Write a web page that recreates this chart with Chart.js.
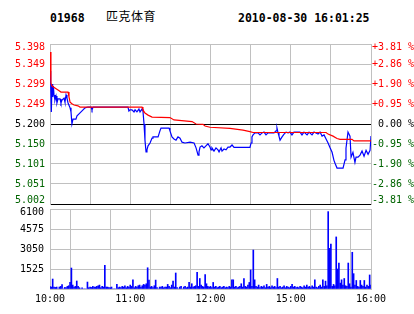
<!DOCTYPE html>
<html>
<head>
<meta charset="utf-8">
<title>01968 匹克体育</title>
<script src="https://cdn.jsdelivr.net/npm/chart.js@4.4.0/dist/chart.umd.min.js"></script>
<style>
    body { margin: 0; background: #fff; }
    #wrap { position: relative; width: 414px; height: 314px; overflow: hidden; }
    .hd { position: absolute; top: 11px; line-height: 12px; font: bold 11.5px "DejaVu Sans Mono", monospace; color: #000; white-space: pre; }
    #name { font: 12px "Noto Sans CJK SC", sans-serif; letter-spacing: 0.5px; top: 9px; line-height: 13px; }
    canvas { position: absolute; left: 0; }
</style>
</head>
<body>
<div id="wrap">
    <div class="hd" style="left:50px">01968</div>
    <div class="hd" id="name" style="left:106px">匹克体育</div>
    <div class="hd" style="left:238px">2010-08-30 16:01:25</div>
    <canvas id="priceChart" width="414" height="206" style="top:0"></canvas>
    <canvas id="volChart" width="414" height="108" style="top:206px"></canvas>
</div>
<script>
"use strict";

const priceMin = 5.002;
const priceMax = 5.398;
const priceLabels = ['5.002', '5.051', '5.101', '5.150', '5.200', '5.249', '5.299', '5.349', '5.398'];
const pctLabels = ['-3.81 %', '-2.86 %', '-1.90 %', '-0.95 %', ' 0.00 %', '+0.95 %', '+1.90 %', '+2.86 %', '+3.81 %'];
const volMax = 6100;
const volTicks = [0, 1525, 3050, 4575, 6100];
const volLabels = ['', '1525', '3050', '4575', '6100'];
const timeLabels = { 0: '10:00', 60: '11:00', 120: '12:00', 180: '15:00', 240: '16:00' };

/* last price, minutes since 10:00 (trading minutes, lunch removed). */
const lastMinutes = [
    0, 0.5, 1, 1.5, 2, 2.5, 3, 3.7, 4.5, 5.2,
    6, 7.5, 8.2, 9, 9.7, 10.5, 11.2, 12, 12.7, 13.5,
    14.2, 15, 15.7, 16.4, 17.2, 19.4, 20.2, 21.7, 23.2, 24.7,
    26.2, 28.4, 30.7, 31.4, 32.2, 58.3, 59, 59.8, 61.3, 62.8,
    63.6, 65, 66.5, 67.3, 68.8, 69.5, 70.3, 71, 71.8, 72.5,
    73.3, 74.8, 76.3, 77, 80.8, 82.2, 83, 89, 89.7, 91.2,
    92.7, 94.2, 95.7, 97.2, 98.7, 100.9, 104.7, 107.7, 109.2, 110.7,
    111.4, 112.2, 113.6, 115.1, 116.6, 118.1, 119.6, 120.4, 121.1, 122.6,
    124.1, 125.6, 126.4, 127.9, 128.6, 130.1, 131.6, 133.1, 134.6, 136.1,
    137.6, 149.5, 150.3, 151, 151.8, 153.3, 155.5, 157, 158.5, 160,
    161.5, 163, 167.5, 169, 169.7, 170.5, 171.2, 172, 173.5, 175,
    176.5, 178, 179.4, 180.9, 182.4, 186.9, 188.4, 189.9, 192.2, 193.7,
    195.9, 197.4, 200.4, 201.9, 203.4, 204.9, 206.4, 207.9, 209.4, 210.9,
    212.3, 213.1, 214.6, 219.1, 220.6, 221.3, 222.8, 224.3, 225.1, 226.5,
    228, 228.8, 230.3, 231.8, 233.3, 234.8, 236.3, 237.8, 239.3, 240
];
const lastPrices = [
    5.331, 5.299, 5.230, 5.299, 5.267, 5.294, 5.272, 5.259, 5.269, 5.252,
    5.262, 5.262, 5.252, 5.259, 5.259, 5.264, 5.254, 5.272, 5.264, 5.252,
    5.252, 5.240, 5.230, 5.200, 5.212, 5.212, 5.220, 5.225, 5.230, 5.235,
    5.240, 5.242, 5.242, 5.235, 5.242, 5.242, 5.232, 5.235, 5.235, 5.230,
    5.235, 5.230, 5.237, 5.230, 5.237, 5.232, 5.200, 5.160, 5.131, 5.136,
    5.146, 5.153, 5.165, 5.168, 5.168, 5.183, 5.190, 5.190, 5.183, 5.168,
    5.163, 5.160, 5.168, 5.165, 5.155, 5.153, 5.155, 5.153, 5.141, 5.123,
    5.131, 5.143, 5.146, 5.141, 5.146, 5.151, 5.143, 5.136, 5.141, 5.133,
    5.141, 5.136, 5.131, 5.141, 5.133, 5.138, 5.136, 5.143, 5.143, 5.148,
    5.142, 5.142, 5.153, 5.168, 5.173, 5.178, 5.178, 5.173, 5.178, 5.180,
    5.173, 5.178, 5.178, 5.183, 5.190, 5.178, 5.170, 5.160, 5.168, 5.175,
    5.180, 5.178, 5.180, 5.173, 5.180, 5.180, 5.173, 5.180, 5.173, 5.180,
    5.173, 5.180, 5.175, 5.180, 5.170, 5.173, 5.163, 5.153, 5.141, 5.130,
    5.110, 5.103, 5.091, 5.091, 5.111, 5.140, 5.180, 5.170, 5.118, 5.130,
    5.105, 5.118, 5.118, 5.123, 5.133, 5.120, 5.135, 5.125, 5.135, 5.170
];

/* average price line. */
const avgMinutes = [
    0, 0.7, 1.5, 3.7, 6, 8.2, 13.5, 14.2, 15, 16.4,
    18, 20.9, 22.4, 68.8, 69.5, 71, 73.3, 76.3, 89.7, 92.7,
    106.2, 109.2, 114.4, 115.9, 119.6, 134.6, 144.3, 149.5, 151.8, 206.4,
    207.9, 211.6, 214.6, 216.8, 225.8, 227.3, 240
];
const avgPrices = [
    5.378, 5.301, 5.294, 5.289, 5.284, 5.279, 5.279, 5.267, 5.254, 5.250,
    5.247, 5.245, 5.242, 5.242, 5.235, 5.227, 5.222, 5.217, 5.216, 5.210,
    5.206, 5.200, 5.199, 5.195, 5.192, 5.189, 5.185, 5.181, 5.179, 5.179,
    5.175, 5.170, 5.164, 5.162, 5.162, 5.158, 5.158
];

/* volume per minute, index = minute. */
const volumes = [
    180, 150, 760, 150, 120, 150, 0, 150, 200, 330,
    0, 120, 100, 200, 250, 500, 1600, 300, 150, 200,
    610, 200, 100, 0, 80, 0, 0, 0, 530, 100,
    150, 120, 200, 150, 150, 200, 250, 300, 100, 200,
    150, 1800, 150, 150, 100, 100, 150, 0, 0, 0,
    350, 100, 150, 100, 200, 150, 250, 100, 200, 150,
    300, 200, 700, 100, 200, 150, 250, 300, 150, 250,
    350, 300, 400, 1620, 680, 150, 200, 100, 250, 680,
    100, 0, 150, 150, 200, 100, 150, 150, 350, 200,
    100, 300, 600, 150, 1220, 100, 0, 150, 200, 0,
    150, 200, 100, 150, 500, 150, 400, 150, 200, 250,
    1270, 200, 800, 300, 200, 150, 1100, 400, 200, 150,
    200, 100, 500, 150, 200, 100, 150, 200, 100, 150,
    200, 100, 150, 100, 200, 150, 700, 700, 150, 200,
    100, 150, 200, 400, 150, 800, 200, 150, 300, 500,
    1450, 200, 2970, 700, 200, 150, 300, 100, 200, 150,
    250, 100, 350, 150, 200, 100, 250, 150, 200, 100,
    800, 150, 200, 100, 150, 250, 100, 200, 150, 100,
    200, 350, 150, 200, 100, 150, 100, 200, 150, 100,
    250, 150, 300, 150, 200, 100, 250, 150, 700, 150,
    100, 200, 300, 150, 700, 200, 600, 250, 5900, 3100,
    3430, 200, 350, 250, 3970, 1525, 1980, 450, 700, 300,
    800, 250, 200, 1980, 400, 150, 2800, 1170, 300, 650,
    200, 150, 650, 300, 200, 650, 150, 300, 200, 1070,
    300
];

const RED = '#ff0000';
const BLUE = '#0000ff';
const GREEN = '#006400';
const GRID = '#c0c0c0';

Chart.defaults.font.family = '"DejaVu Sans Mono", monospace';
Chart.defaults.font.size = 10;
Chart.defaults.color = '#000';

/* colour of a price/percent label: red above the close, green below. */
const sideColor = (i) => i > 4 ? RED : (i < 4 ? GREEN : '#000');

/* 9 even ticks from min to max. */
const priceTickValues = priceLabels.map((_, i) => priceMin + i * (priceMax - priceMin) / 8);
const timeTickValues = [0, 30, 60, 90, 120, 150, 180, 210, 240];

/* fixed axis width, and no extra room for the edge labels. */
const fixWidth = (w) => (s) => {
    s.width = w;
    s.paddingTop = 0;
    s.paddingBottom = 0;
};

/* keeps the top and bottom axis labels inside the panel. */
const edgeLabels = {
    id: 'edgeLabels',
    beforeDraw: (chart, args, opts) => {
        Object.values(chart.scales).forEach(s => {
            if (s.axis !== 'y' || !s.options.ticks.display) return;
            const items = s.getLabelItems();
            if (!items.length || items._nudged) return;
            items._nudged = true;
            items[0].options.translation[1] -= opts.bottom;
            items[items.length - 1].options.translation[1] += opts.top;
        });
    }
};

const timeAxis = (showLabels) => ({
    type: 'linear',
    min: 0,
    max: 240,
    offset: false,
    afterBuildTicks: s => { s.ticks = timeTickValues.map(v => ({ value: v })); },
    afterFit: s => { s.height = showLabels ? 25 : 0; },
    grid: { color: GRID, drawTicks: false },
    border: { color: showLabels ? GRID : '#000' },
    ticks: {
        display: showLabels,
        autoSkip: false,
        maxRotation: 0,
        padding: 4,
        callback: v => timeLabels[v] || ''
    }
});

const priceChart = new Chart(document.getElementById('priceChart'), {
    type: 'line',
    data: {
        datasets: [
            {
                data: avgMinutes.map((m, i) => ({ x: m, y: avgPrices[i] })),
                borderColor: RED,
                borderWidth: 1.2,
                pointRadius: 0,
                yAxisID: 'y'
            },
            {
                data: lastMinutes.map((m, i) => ({ x: m, y: lastPrices[i] })),
                borderColor: BLUE,
                borderWidth: 1.2,
                pointRadius: 0,
                yAxisID: 'y'
            }
        ]
    },
    options: {
        responsive: false,
        animation: false,
        layout: { padding: { top: 44, bottom: 2, left: 0, right: 0 } },
        plugins: {
            legend: { display: false },
            tooltip: { enabled: false },
            edgeLabels: { top: 3, bottom: 4 }
        },
        scales: {
            x: timeAxis(false),
            y: {
                min: priceMin,
                max: priceMax,
                afterBuildTicks: s => { s.ticks = priceTickValues.map(v => ({ value: v })); },
                afterFit: fixWidth(50),
                grid: {
                    drawTicks: false,
                    color: ctx => (ctx.index === 0 || ctx.index === 4) ? '#000' : GRID
                },
                border: { color: GRID },
                ticks: {
                    padding: 5,
                    callback: (v, i) => priceLabels[i],
                    color: ctx => sideColor(ctx.index)
                }
            },
            y2: {
                position: 'right',
                min: priceMin,
                max: priceMax,
                afterBuildTicks: s => { s.ticks = priceTickValues.map(v => ({ value: v })); },
                afterFit: fixWidth(43),
                grid: { display: false, drawTicks: false },
                border: { color: GRID },
                ticks: {
                    padding: 1,
                    callback: (v, i) => pctLabels[i],
                    color: ctx => sideColor(ctx.index)
                }
            }
        }
    },
    plugins: [edgeLabels]
});

const volChart = new Chart(document.getElementById('volChart'), {
    type: 'bar',
    data: {
        datasets: [{
            data: volumes.map((v, i) => ({ x: i, y: v })),
            backgroundColor: BLUE,
            barThickness: 1
        }]
    },
    options: {
        responsive: false,
        animation: false,
        layout: { padding: { top: 3, bottom: 0, left: 0, right: 0 } },
        plugins: {
            legend: { display: false },
            tooltip: { enabled: false },
            edgeLabels: { top: 3, bottom: 0 }
        },
        scales: {
            x: timeAxis(true),
            y: {
                min: 0,
                max: volMax,
                afterBuildTicks: s => { s.ticks = volTicks.map(v => ({ value: v })); },
                afterFit: fixWidth(50),
                grid: { drawTicks: false, color: GRID },
                border: { color: GRID },
                ticks: {
                    padding: 6,
                    callback: (v, i) => volLabels[i]
                }
            },
            y2: {
                position: 'right',
                min: 0,
                max: volMax,
                afterFit: fixWidth(43),
                grid: { display: false, drawTicks: false },
                border: { color: GRID },
                ticks: { display: false }
            }
        }
    },
    plugins: [edgeLabels]
});
</script>
</body>
</html>
